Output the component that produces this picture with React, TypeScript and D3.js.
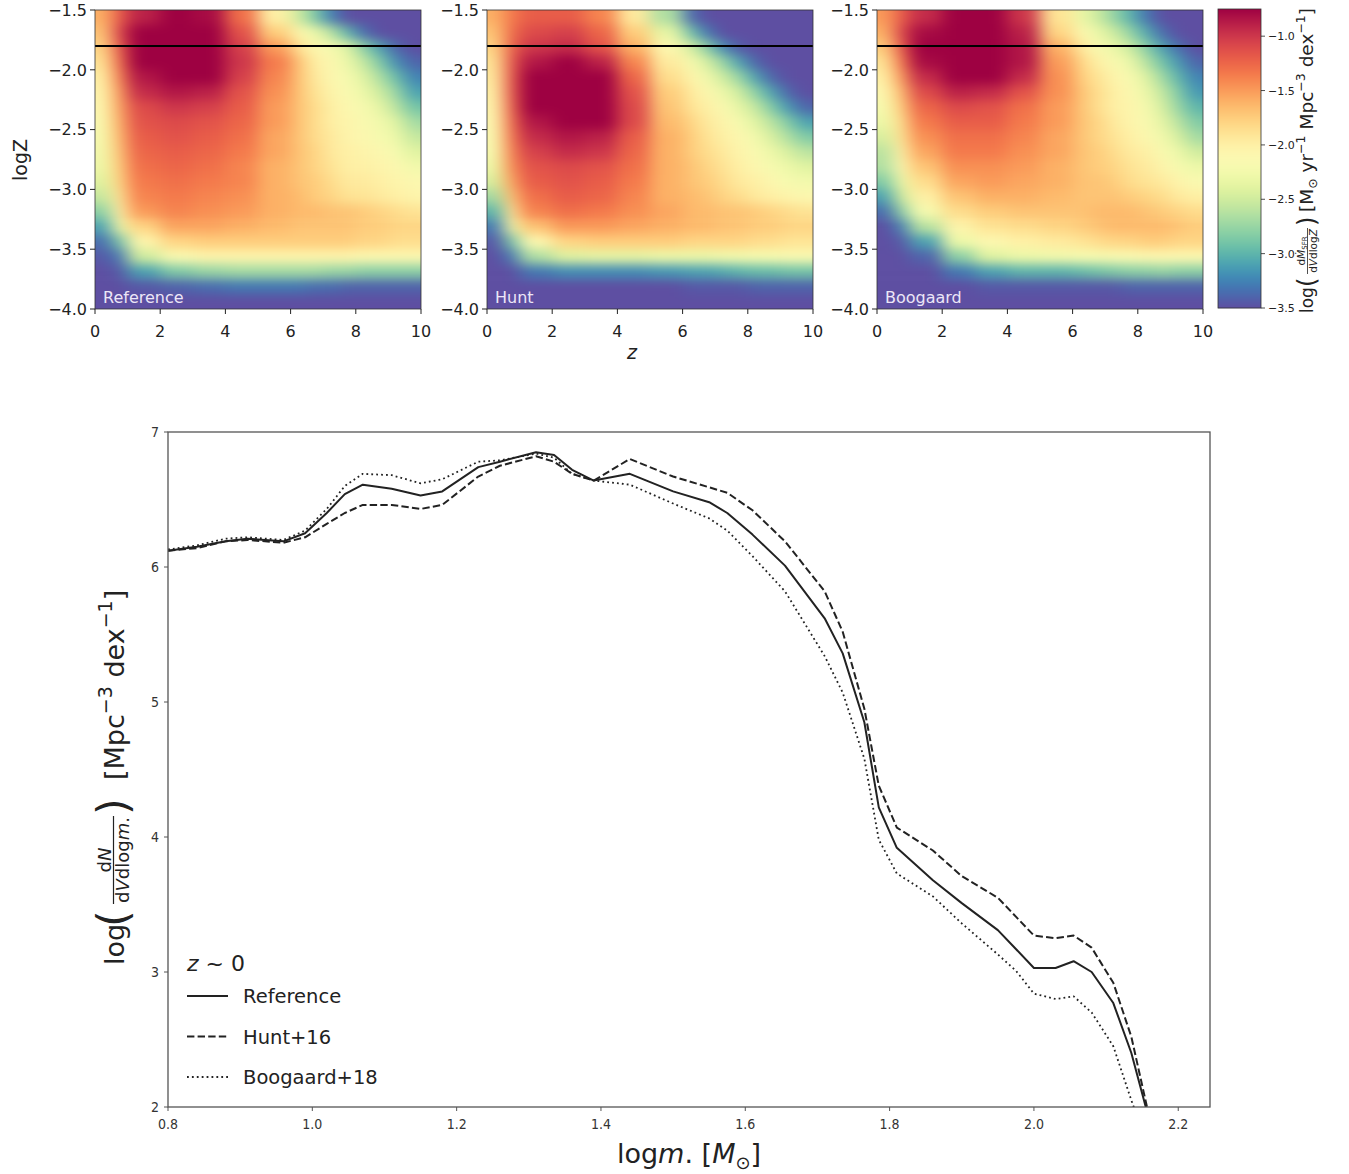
import React from 'react';
import * as d3 from 'd3';

// ---------- Top panels: star-formation density grids (log dM/dVdlogZ) ----------
// bin edges of the gridded maps (z along columns, logZ along rows)
const zEdges = [0, 0.5, 1, 2, 3, 4, 5, 6, 6.5, 7, 7.5, 8, 8.5, 9, 9.5, 10];
const logZEdges = [
  -1.5, -1.625, -1.75, -1.875, -2.0, -2.125, -2.25, -2.375, -2.5, -2.625, -2.75,
  -2.875, -3.0, -3.125, -3.25, -3.375, -3.5, -3.625, -3.75, -3.875, -4.0,
];

const referenceGrid = [
  [-1.6, -1.2, -0.9, -0.75, -0.8, -1.3, -2.0, -2.5, -2.85, -3.25, -3.5, -3.5, -3.5, -3.5, -3.5],
  [-1.7, -1.1, -0.75, -0.65, -0.7, -1.15, -1.75, -2.1, -2.3, -2.6, -3.0, -3.35, -3.5, -3.5, -3.5],
  [-1.8, -1.2, -0.75, -0.65, -0.65, -1.05, -1.5, -1.9, -2.1, -2.2, -2.4, -2.8, -3.1, -3.4, -3.5],
  [-1.9, -1.3, -0.75, -0.65, -0.65, -1.0, -1.35, -1.7, -2.0, -2.1, -2.3, -2.55, -2.85, -3.2, -3.4],
  [-2.0, -1.4, -0.85, -0.7, -0.75, -1.05, -1.4, -1.7, -1.95, -2.1, -2.2, -2.4, -2.65, -2.95, -3.25],
  [-2.05, -1.5, -0.95, -0.85, -0.9, -1.15, -1.45, -1.7, -1.9, -2.05, -2.15, -2.3, -2.5, -2.75, -3.1],
  [-2.1, -1.55, -1.1, -1.0, -1.05, -1.2, -1.5, -1.7, -1.85, -2.0, -2.1, -2.2, -2.35, -2.6, -2.9],
  [-2.15, -1.6, -1.15, -1.1, -1.15, -1.25, -1.5, -1.7, -1.85, -2.0, -2.05, -2.15, -2.25, -2.4, -2.7],
  [-2.2, -1.65, -1.2, -1.15, -1.2, -1.3, -1.55, -1.7, -1.85, -1.95, -2.05, -2.1, -2.2, -2.3, -2.55],
  [-2.25, -1.7, -1.25, -1.2, -1.25, -1.35, -1.55, -1.7, -1.8, -1.95, -2.0, -2.05, -2.1, -2.2, -2.4],
  [-2.3, -1.75, -1.3, -1.25, -1.3, -1.4, -1.6, -1.7, -1.8, -1.9, -2.0, -2.0, -2.05, -2.1, -2.25],
  [-2.4, -1.8, -1.35, -1.3, -1.35, -1.4, -1.6, -1.7, -1.75, -1.85, -1.95, -1.95, -2.0, -2.05, -2.1],
  [-2.55, -1.9, -1.4, -1.35, -1.4, -1.45, -1.6, -1.65, -1.75, -1.8, -1.9, -1.9, -1.95, -2.0, -2.05],
  [-2.8, -2.0, -1.5, -1.4, -1.45, -1.5, -1.6, -1.65, -1.65, -1.7, -1.7, -1.75, -1.8, -1.85, -1.9],
  [-3.1, -2.3, -1.8, -1.55, -1.55, -1.6, -1.65, -1.7, -1.7, -1.7, -1.7, -1.75, -1.75, -1.8, -1.8],
  [-3.35, -2.9, -2.05, -1.8, -1.75, -1.75, -1.75, -1.75, -1.75, -1.75, -1.75, -1.8, -1.8, -1.85, -1.85],
  [-3.45, -3.3, -2.5, -2.15, -2.05, -2.05, -2.05, -2.05, -2.05, -2.05, -2.05, -2.1, -2.1, -2.1, -2.1],
  [-3.5, -3.45, -3.1, -2.85, -2.75, -2.7, -2.7, -2.7, -2.7, -2.75, -2.75, -2.8, -2.8, -2.8, -2.8],
  [-3.5, -3.5, -3.45, -3.4, -3.35, -3.3, -3.3, -3.3, -3.35, -3.35, -3.4, -3.4, -3.4, -3.4, -3.4],
  [-3.5, -3.5, -3.5, -3.5, -3.5, -3.5, -3.5, -3.5, -3.5, -3.5, -3.5, -3.5, -3.5, -3.5, -3.5],
];

const huntGrid = [
  [-1.6, -1.35, -1.2, -1.2, -1.4, -1.95, -2.65, -3.35, -3.5, -3.5, -3.5, -3.5, -3.5, -3.5, -3.5],
  [-1.7, -1.3, -1.1, -1.05, -1.25, -1.75, -2.35, -2.9, -3.3, -3.5, -3.5, -3.5, -3.5, -3.5, -3.5],
  [-1.8, -1.25, -1.0, -0.95, -1.15, -1.6, -2.1, -2.45, -2.8, -3.2, -3.45, -3.5, -3.5, -3.5, -3.5],
  [-1.9, -1.2, -0.85, -0.75, -0.9, -1.4, -1.95, -2.2, -2.45, -2.75, -3.1, -3.4, -3.5, -3.5, -3.5],
  [-1.95, -1.2, -0.75, -0.65, -0.7, -1.25, -1.85, -2.05, -2.25, -2.5, -2.75, -3.1, -3.4, -3.5, -3.5],
  [-2.0, -1.2, -0.7, -0.6, -0.65, -1.15, -1.75, -1.95, -2.1, -2.3, -2.5, -2.8, -3.1, -3.4, -3.5],
  [-2.05, -1.25, -0.75, -0.6, -0.65, -1.1, -1.7, -1.9, -2.0, -2.15, -2.35, -2.55, -2.85, -3.15, -3.4],
  [-2.1, -1.3, -0.85, -0.7, -0.75, -1.1, -1.65, -1.8, -1.95, -2.05, -2.2, -2.4, -2.6, -2.85, -3.1],
  [-2.15, -1.35, -0.95, -0.85, -0.9, -1.2, -1.6, -1.75, -1.9, -2.0, -2.1, -2.25, -2.45, -2.65, -2.85],
  [-2.2, -1.4, -1.05, -0.95, -1.0, -1.25, -1.6, -1.75, -1.85, -1.95, -2.05, -2.15, -2.3, -2.45, -2.6],
  [-2.3, -1.45, -1.15, -1.1, -1.15, -1.3, -1.6, -1.7, -1.8, -1.9, -2.0, -2.1, -2.2, -2.3, -2.4],
  [-2.45, -1.55, -1.2, -1.15, -1.2, -1.35, -1.6, -1.7, -1.75, -1.85, -1.95, -2.0, -2.1, -2.2, -2.25],
  [-2.7, -1.7, -1.3, -1.2, -1.25, -1.4, -1.6, -1.65, -1.7, -1.8, -1.85, -1.95, -2.0, -2.05, -2.1],
  [-3.0, -1.9, -1.4, -1.3, -1.35, -1.45, -1.55, -1.65, -1.65, -1.7, -1.7, -1.75, -1.8, -1.85, -1.9],
  [-3.3, -2.3, -1.7, -1.5, -1.5, -1.55, -1.6, -1.65, -1.65, -1.7, -1.7, -1.75, -1.75, -1.8, -1.8],
  [-3.45, -2.9, -2.1, -1.8, -1.75, -1.75, -1.75, -1.8, -1.8, -1.8, -1.8, -1.85, -1.85, -1.9, -1.9],
  [-3.5, -3.3, -2.65, -2.4, -2.35, -2.35, -2.3, -2.3, -2.3, -2.25, -2.25, -2.2, -2.2, -2.15, -2.15],
  [-3.5, -3.5, -3.3, -3.2, -3.2, -3.2, -3.15, -3.1, -3.1, -3.05, -3.0, -2.95, -2.95, -2.9, -2.9],
  [-3.5, -3.5, -3.5, -3.5, -3.5, -3.5, -3.5, -3.45, -3.45, -3.45, -3.45, -3.4, -3.4, -3.4, -3.4],
  [-3.5, -3.5, -3.5, -3.5, -3.5, -3.5, -3.5, -3.5, -3.5, -3.5, -3.5, -3.5, -3.5, -3.5, -3.5],
];

const boogaardGrid = [
  [-1.5, -1.2, -0.95, -0.75, -0.75, -1.0, -1.9, -2.3, -2.5, -2.75, -3.0, -3.3, -3.5, -3.5, -3.5],
  [-1.6, -1.1, -0.8, -0.6, -0.6, -0.9, -1.8, -2.1, -2.3, -2.5, -2.75, -3.05, -3.35, -3.5, -3.5],
  [-1.75, -1.2, -0.75, -0.55, -0.55, -0.85, -1.6, -1.95, -2.15, -2.3, -2.5, -2.8, -3.1, -3.35, -3.5],
  [-1.9, -1.35, -0.8, -0.55, -0.55, -0.85, -1.5, -1.8, -2.0, -2.15, -2.3, -2.6, -2.9, -3.15, -3.4],
  [-2.0, -1.5, -0.95, -0.7, -0.7, -0.95, -1.45, -1.75, -1.9, -2.05, -2.15, -2.4, -2.7, -3.0, -3.25],
  [-2.1, -1.65, -1.1, -0.9, -0.95, -1.15, -1.45, -1.7, -1.85, -2.0, -2.1, -2.3, -2.55, -2.85, -3.15],
  [-2.2, -1.75, -1.25, -1.1, -1.15, -1.3, -1.5, -1.7, -1.85, -2.0, -2.05, -2.2, -2.45, -2.75, -3.0],
  [-2.3, -1.85, -1.35, -1.2, -1.2, -1.35, -1.5, -1.7, -1.8, -1.95, -2.05, -2.15, -2.35, -2.6, -2.85],
  [-2.45, -1.9, -1.45, -1.3, -1.3, -1.4, -1.55, -1.7, -1.8, -1.9, -2.0, -2.1, -2.25, -2.45, -2.7],
  [-2.6, -2.0, -1.55, -1.35, -1.35, -1.45, -1.55, -1.7, -1.75, -1.85, -1.95, -2.0, -2.15, -2.3, -2.5],
  [-2.65, -2.1, -1.7, -1.45, -1.45, -1.5, -1.6, -1.7, -1.75, -1.8, -1.9, -1.95, -2.05, -2.2, -2.3],
  [-2.85, -2.3, -1.85, -1.55, -1.5, -1.55, -1.6, -1.7, -1.7, -1.75, -1.85, -1.9, -1.95, -2.05, -2.15],
  [-3.1, -2.5, -2.0, -1.7, -1.6, -1.6, -1.65, -1.7, -1.7, -1.7, -1.75, -1.8, -1.85, -1.95, -2.0],
  [-3.35, -2.8, -2.2, -1.85, -1.75, -1.7, -1.7, -1.7, -1.65, -1.65, -1.65, -1.7, -1.75, -1.8, -1.85],
  [-3.5, -3.25, -2.6, -2.05, -1.9, -1.85, -1.8, -1.75, -1.7, -1.65, -1.65, -1.65, -1.65, -1.7, -1.75],
  [-3.5, -3.45, -3.1, -2.3, -2.1, -2.0, -1.95, -1.9, -1.85, -1.8, -1.8, -1.75, -1.75, -1.8, -1.8],
  [-3.5, -3.5, -3.4, -2.8, -2.4, -2.3, -2.25, -2.2, -2.2, -2.15, -2.15, -2.1, -2.1, -2.1, -2.1],
  [-3.5, -3.5, -3.5, -3.3, -3.1, -3.0, -3.0, -2.95, -2.9, -2.85, -2.8, -2.8, -2.75, -2.8, -2.8],
  [-3.5, -3.5, -3.5, -3.5, -3.45, -3.45, -3.45, -3.45, -3.45, -3.45, -3.4, -3.4, -3.4, -3.4, -3.4],
  [-3.5, -3.5, -3.5, -3.5, -3.5, -3.5, -3.5, -3.5, -3.5, -3.5, -3.5, -3.5, -3.5, -3.5, -3.5],
];

const panelNames = ['Reference', 'Hunt', 'Boogaard'];
const zTicks = [0, 2, 4, 6, 8, 10];
const logZTicks = [-1.5, -2.0, -2.5, -3.0, -3.5, -4.0];
const colorbarTicks = [-1.0, -1.5, -2.0, -2.5, -3.0, -3.5];
const markerLogZ = -1.8;

// ---------- Bottom panel: mass function at z ~ 0 ----------
const logm = [
  0.8, 0.84, 0.88, 0.91, 0.96, 0.99, 1.02, 1.045, 1.07, 1.11, 1.15, 1.18, 1.23, 1.26, 1.31,
  1.335, 1.36, 1.39, 1.44, 1.5, 1.55, 1.575, 1.61, 1.655, 1.71, 1.735, 1.765, 1.785, 1.81,
  1.86, 1.9, 1.95, 1.975, 2.0, 2.03, 2.055, 2.08, 2.11, 2.135, 2.165,
];
const referenceLine = [
  6.12, 6.15, 6.19, 6.21, 6.19, 6.25, 6.4, 6.54, 6.61, 6.58, 6.53, 6.56, 6.74, 6.78, 6.85,
  6.83, 6.72, 6.64, 6.69, 6.56, 6.48, 6.4, 6.24, 6.01, 5.62, 5.36, 4.85, 4.22, 3.92,
  3.68, 3.51, 3.31, 3.17, 3.03, 3.03, 3.08, 3.0, 2.77, 2.4, 1.8,
];
const huntLine = [
  6.12, 6.14, 6.19, 6.2, 6.18, 6.22, 6.32, 6.4, 6.46, 6.46, 6.43, 6.46, 6.67, 6.75, 6.82,
  6.78, 6.69, 6.64, 6.8, 6.67, 6.59, 6.55, 6.42, 6.19, 5.82, 5.52, 4.95, 4.38, 4.07,
  3.9, 3.71, 3.55, 3.41, 3.27, 3.25, 3.27, 3.18, 2.92, 2.52, 1.8,
];
const boogaardLine = [
  6.13, 6.16, 6.21, 6.22, 6.2, 6.27, 6.43, 6.6, 6.69, 6.68, 6.62, 6.65, 6.78, 6.79, 6.84,
  6.81, 6.69, 6.64, 6.61, 6.47, 6.36, 6.27, 6.08, 5.82, 5.34, 5.07, 4.58, 3.98, 3.73,
  3.56, 3.36, 3.13, 3.01, 2.84, 2.8, 2.82, 2.7, 2.45, 2.05, 1.6,
];
const massTicks = [0.8, 1.0, 1.2, 1.4, 1.6, 1.8, 2.0, 2.2];
const densityTicks = [2, 3, 4, 5, 6, 7];
const legendLabels = ['Reference', 'Hunt+16', 'Boogaard+18'];

const FONT = "'DejaVu Sans', 'Liberation Sans', sans-serif";
const NARROW = "'Liberation Sans Narrow', 'DejaVu Sans Condensed', sans-serif";
const INK = '#222';

const colorScale = d3
  .scaleSequential((t: number) => d3.interpolateSpectral(1 - t))
  .domain([-3.5, -0.75])
  .clamp(true);

const fmt1 = (v: number) => v.toFixed(1).replace('-', '\u2212');

function Heatmap({ grid, name, left, idx }: { grid: number[][]; name: string; left: number; idx: number }) {
  const xs = d3.scaleLinear().domain([0, 10]).range([left, left + 326]);
  const ys = d3.scaleLinear().domain([-1.5, -4.0]).range([10, 309]);
  const pad = 26;
  const cells: React.ReactElement[] = [];
  grid.forEach((row, i) =>
    row.forEach((v, j) => {
      let x0 = xs(zEdges[j]);
      let x1 = xs(zEdges[j + 1]);
      let y0 = ys(logZEdges[i]);
      let y1 = ys(logZEdges[i + 1]);
      if (j === 0) x0 -= pad;
      if (j === row.length - 1) x1 += pad;
      if (i === 0) y0 -= pad;
      if (i === grid.length - 1) y1 += pad;
      cells.push(
        <rect key={`${i}-${j}`} x={x0} y={y0} width={x1 - x0 + 0.6} height={y1 - y0 + 0.6} fill={colorScale(v)} />
      );
    })
  );
  const [r0, r1] = xs.range();
  return (
    <g>
      <defs>
        <clipPath id={`panelClip${idx}`}>
          <rect x={r0} y={10} width={r1 - r0} height={299} />
        </clipPath>
      </defs>
      <g clipPath={`url(#panelClip${idx})`}>
        <g filter="url(#heatBlur)">{cells}</g>
      </g>
      <line x1={r0} x2={r1} y1={ys(markerLogZ)} y2={ys(markerLogZ)} stroke="#000" strokeWidth={2} />
      <rect x={r0} y={10} width={r1 - r0} height={299} fill="none" stroke="#333" strokeWidth={0.8} />
      {logZTicks.map((t) => (
        <g key={t}>
          <line x1={r0 - 5} x2={r0} y1={ys(t)} y2={ys(t)} stroke={INK} strokeWidth={1} />
          <text x={r0 - 8} y={ys(t)} dy="0.36em" textAnchor="end" fontSize={16} fill={INK} fontFamily={FONT}>
            {fmt1(t)}
          </text>
        </g>
      ))}
      {zTicks.map((t) => (
        <g key={t}>
          <line x1={xs(t)} x2={xs(t)} y1={309} y2={314} stroke={INK} strokeWidth={1} />
          <text x={xs(t)} y={337} textAnchor="middle" fontSize={16} fill={INK} fontFamily={FONT}>
            {t}
          </text>
        </g>
      ))}
      <text x={r0 + 8} y={303} fontSize={16} fill="#ece6f7" fontFamily={FONT}>
        {name}
      </text>
    </g>
  );
}

export default function App() {
  const grids = [referenceGrid, huntGrid, boogaardGrid];
  const lefts = [95, 487, 877];

  // colorbar
  const cb = d3.scaleLinear().domain([-3.5, -0.75]).range([308, 9]);
  const cbX = 1218;
  const cbW = 43;
  const cbSteps = d3.range(cb.range()[1], cb.range()[0], 1);

  // bottom panel
  const bx = d3.scaleLinear().domain([0.8, 2.244]).range([168, 1210]);
  const by = d3.scaleLinear().domain([2, 7]).range([1107, 432]);
  const line = d3
    .line<number>()
    .x((_, i) => bx(logm[i]))
    .y((d) => by(d))
    .curve(d3.curveLinear);
  const series = [
    { values: referenceLine, dash: undefined as string | undefined, w: 2 },
    { values: huntLine, dash: '7.4 3.2', w: 2 },
    { values: boogaardLine, dash: '1.8 3.1', w: 1.8 },
  ];

  return (
    <svg
      width={1349}
      height={1174}
      viewBox="0 0 1349 1174"
      style={{ position: 'absolute', left: 0, top: 0, background: '#fff' }}
      fontFamily={FONT}
    >
      <defs>
        <filter id="heatBlur" x="-0.1" y="-0.1" width="1.2" height="1.2" colorInterpolationFilters="sRGB">
          <feGaussianBlur stdDeviation="9 5.5" />
        </filter>
        <clipPath id="bottomClip">
          <rect x={168} y={432} width={1042} height={675} />
        </clipPath>
      </defs>
      <rect x={0} y={0} width={1349} height={1174} fill="#fff" />

      {grids.map((g, i) => (
        <Heatmap key={i} grid={g} name={panelNames[i]} left={lefts[i]} idx={i} />
      ))}

      {/* top axis labels */}
      <text transform="translate(27,160) rotate(-90)" textAnchor="middle" fontSize={19} fill={INK}>
        logZ
      </text>
      <text x={632} y={359} textAnchor="middle" fontSize={19} fontStyle="italic" fill={INK}>
        z
      </text>

      {/* colorbar */}
      {cbSteps.map((y) => (
        <rect key={y} x={cbX} y={y} width={cbW} height={1.2} fill={colorScale(cb.invert(y + 0.5))} />
      ))}
      <rect x={cbX} y={9} width={cbW} height={299} fill="none" stroke="#333" strokeWidth={0.8} />
      {colorbarTicks.map((t) => (
        <g key={t}>
          <line x1={cbX + cbW} x2={cbX + cbW + 4} y1={cb(t)} y2={cb(t)} stroke={INK} strokeWidth={0.8} />
          <text x={cbX + cbW + 7} y={cb(t)} dy="0.36em" fontSize={11} fill={INK}>
            {fmt1(t)}
          </text>
        </g>
      ))}
      <g transform="translate(1313,160) rotate(-90)" fill={INK}>
        <text x={-153} y={0} fontSize={17}>log</text>
        <text x={-127} y={2} fontSize={24}>(</text>
        <text x={-91} y={-8} fontSize={10.5} textAnchor="middle">
          d<tspan fontStyle="italic">Ṁ</tspan>
          <tspan fontSize={7} dy={2}>SFR</tspan>
        </text>
        <line x1={-114} x2={-68} y1={-5.5} y2={-5.5} stroke={INK} strokeWidth={0.8} />
        <text x={-91} y={3.5} fontSize={10.5} textAnchor="middle">
          d<tspan fontStyle="italic">V</tspan>dlog<tspan fontStyle="italic">Z</tspan>
        </text>
        <text x={-66} y={2} fontSize={24}>)</text>
        <text x={-52} y={0} fontSize={18.5}>
          [M<tspan fontSize={12.5} dy={4}>⊙</tspan>
          <tspan dy={-4}> yr</tspan>
          <tspan fontSize={12.5} dy={-8}>−1</tspan>
          <tspan dy={8}> Mpc</tspan>
          <tspan fontSize={12.5} dy={-8}>−3</tspan>
          <tspan dy={8}> dex</tspan>
          <tspan fontSize={12.5} dy={-8}>−1</tspan>
          <tspan dy={8}>]</tspan>
        </text>
      </g>

      {/* bottom panel */}
      <g clipPath="url(#bottomClip)">
        {series.map((s, i) => (
          <path
            key={i}
            d={line(s.values) || ''}
            fill="none"
            stroke={INK}
            strokeWidth={s.w}
            strokeDasharray={s.dash}
            strokeLinejoin="round"
          />
        ))}
      </g>
      <rect x={168} y={432} width={1042} height={675} fill="none" stroke="#555" strokeWidth={1.3} />
      {massTicks.map((t) => (
        <g key={t}>
          <line x1={bx(t)} x2={bx(t)} y1={1107} y2={1111} stroke="#555" strokeWidth={1} />
          <text x={bx(t)} y={1129} textAnchor="middle" fontSize={14} fill="#333" fontFamily={NARROW}>
            {t.toFixed(1)}
          </text>
        </g>
      ))}
      {densityTicks.map((t) => (
        <g key={t}>
          <line x1={164} x2={168} y1={by(t)} y2={by(t)} stroke="#555" strokeWidth={1} />
          <text x={159} y={by(t)} dy="0.36em" textAnchor="end" fontSize={14} fill="#333" fontFamily={NARROW}>
            {t}
          </text>
        </g>
      ))}

      {/* bottom x label */}
      <text x={689} y={1163} textAnchor="middle" fontSize={27} fill={INK}>
        log<tspan fontStyle="italic">m</tspan>. [<tspan fontStyle="italic">M</tspan>
        <tspan fontSize={18} dy={6}>⊙</tspan>
        <tspan dy={-6}>]</tspan>
      </text>

      {/* bottom y label */}
      <g transform="translate(124,775) rotate(-90)" fill={INK}>
        <text x={-190} y={0} fontSize={27}>log</text>
        <text x={-152} y={3.5} fontSize={43}>(</text>
        <text x={-85} y={-13} fontSize={18} textAnchor="middle">
          d<tspan fontStyle="italic">N</tspan>
        </text>
        <line x1={-129} x2={-41} y1={-10.5} y2={-10.5} stroke={INK} strokeWidth={1.2} />
        <text x={-85} y={4.5} fontSize={18} textAnchor="middle">
          d<tspan fontStyle="italic">V</tspan>dlog<tspan fontStyle="italic">m</tspan>.
        </text>
        <text x={-40} y={3.5} fontSize={43}>)</text>
        <text x={-5} y={0} fontSize={27}>
          [Mpc<tspan fontSize={19} dy={-12}>−3</tspan>
          <tspan dy={12}> dex</tspan>
          <tspan fontSize={19} dy={-12}>−1</tspan>
          <tspan dy={12}>]</tspan>
        </text>
      </g>

      {/* legend */}
      <text x={187} y={971} fontSize={22} fill={INK}>
        <tspan fontStyle="italic">z</tspan> ~ 0
      </text>
      {legendLabels.map((lab, i) => {
        const y = 996 + i * 40.5;
        return (
          <g key={lab}>
            <line
              x1={187}
              x2={228}
              y1={y}
              y2={y}
              stroke={INK}
              strokeWidth={series[i].w}
              strokeDasharray={series[i].dash}
            />
            <text x={243} y={y} dy="0.36em" fontSize={19.5} fill={INK}>
              {lab}
            </text>
          </g>
        );
      })}
    </svg>
  );
}
